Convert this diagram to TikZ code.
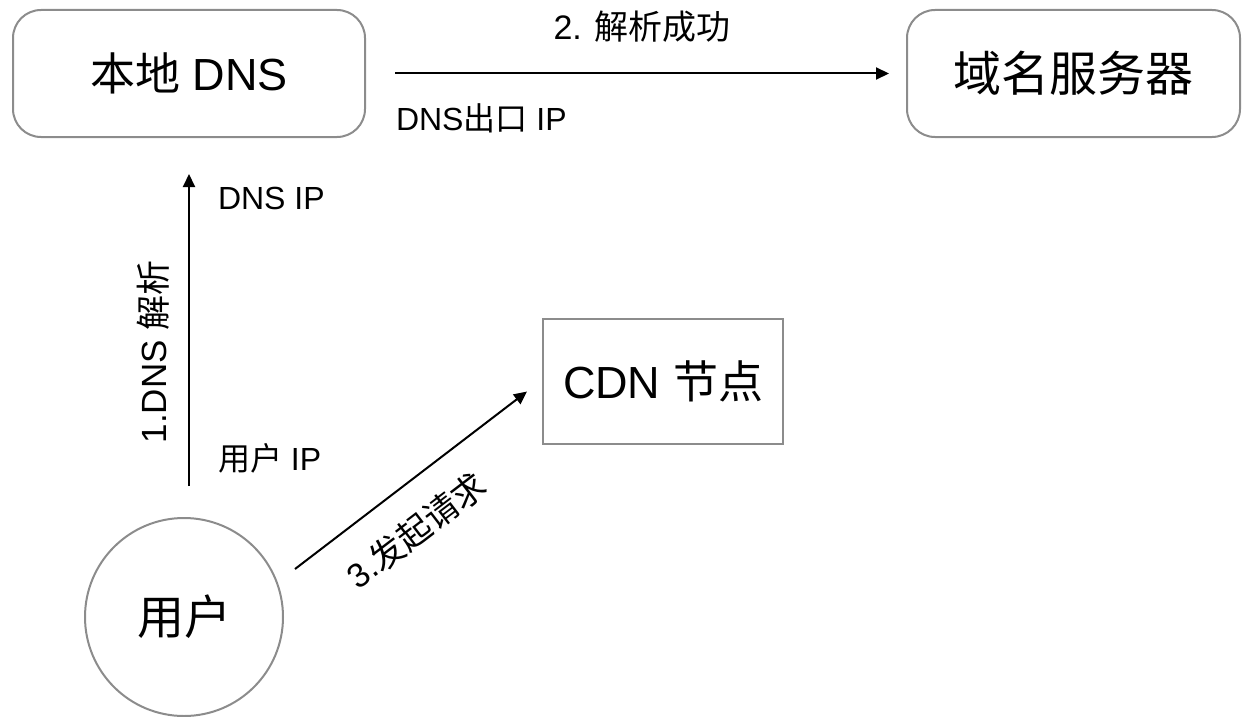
\documentclass[tikz,border=0pt]{standalone}
\usepackage{fontspec}
\setmainfont{Liberation Sans}
\newfontfamily\cjk{Noto Sans CJK SC}
\newcommand{\han}[1]{{\cjk #1}}
\usetikzlibrary{arrows.meta,calc,shapes.geometric}
\definecolor{edgegray}{HTML}{8C8C8C}

\begin{document}
\begin{tikzpicture}[x=1pt,y=-1pt]
	\tikzset{every node/.style={inner sep=0pt}}
	\tikzset{roundbox/.style={draw=edgegray,line width=2pt,rounded corners=28pt,minimum height=127pt}}
	\tikzset{plainbox/.style={draw=edgegray,line width=2pt,minimum width=240pt,minimum height=125pt,font=\fontsize{45}{54}\selectfont}}
	\tikzset{userball/.style={draw=edgegray,line width=2pt,circle,minimum size=198pt,font=\fontsize{47}{56}\selectfont}}
	\tikzset{flow/.style={-{Triangle[length=13pt,width=12pt]},line width=2pt}}
	\tikzset{tag/.style={font=\fontsize{32}{38}\selectfont}}
	\useasboundingbox (0,0) rectangle (1242,717);
	\node[roundbox,minimum width=352pt,font=\fontsize{45}{54}\selectfont] (localdns) at (189,73.5) {\han{本地} DNS};
	\node[roundbox,minimum width=333pt,font=\fontsize{48}{56}\selectfont] (domain) at (1073.5,73.5) {\han{域名服务器}};
	\node[plainbox] (cdn) at (663,381.5) {CDN \han{节点}};
	\node[userball] (user) at (184,617) {\han{用户}};
	\draw[flow] ($(localdns.east)+(29,0)$) -- ($(domain.west)+(-17,0)$)
		node[midway,above=30pt,font=\fontsize{34}{40}\selectfont] {2. \han{解析成功}}
		node[pos=0,anchor=north west,yshift=-29pt,tag] {DNS\han{出口} IP};
	\draw[flow] ($(localdns.south)+(0,348)$) -- ($(localdns.south)+(0,36)$)
		node[pos=0.43,sloped,above=19pt,font=\fontsize{35}{42}\selectfont] {1.DNS \han{解析}}
		node[pos=0.92,anchor=west,xshift=28pt,tag] {DNS IP}
		node[pos=0.09,anchor=west,xshift=28pt,tag] {\han{用户} IP};
	\draw[flow] ($(user.center)+(111,-48)$) -- ($(cdn.west)+(-15,10)$)
		node[pos=0.41,sloped,below=26pt,font=\fontsize{34}{40}\selectfont] {3.\han{发起请求}};
\end{tikzpicture}
\end{document}
